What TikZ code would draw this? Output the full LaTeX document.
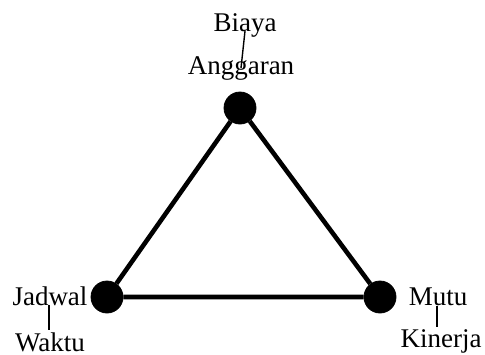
\documentclass[tikz,border=0pt]{standalone}
\usepackage{fontspec}
\setmainfont{Liberation Serif}
\usepackage{tikz}

\begin{document}
\begin{tikzpicture}[x=0.5pt, y=-0.5pt,
    vertex/.style={draw=black, fill=black, circle, inner sep=0pt, minimum size=16pt},
    lbl/.style={inner sep=1pt, font=\fontsize{13.5}{16}\selectfont},
    tick/.style={draw=black, line width=0.7pt}]
  \useasboundingbox (0,0) rectangle (485,354);
  % corners of the triangle
  \node[vertex] (biayapt) at (240,108) {};
  \node[vertex] (jadwalpt) at (107,297) {};
  \node[vertex] (mutupt) at (380,297) {};
  \draw[line width=2.3pt] (biayapt) -- (jadwalpt) -- (mutupt) -- (biayapt);
  % labels
  \node[lbl] (biaya) at (245,25) {Biaya};
  \node[lbl] (anggaran) at (241,68) {Anggaran};
  \node[lbl] (jadwal) at (50,296) {Jadwal};
  \node[lbl] (waktu) at (50,342) {Waktu};
  \node[lbl] (mutu) at (438,297) {Mutu};
  \node[lbl] (kinerja) at (441,341) {Kinerja};
  \draw[tick] (biaya.base) -- (anggaran.center);
  \draw[tick] ([xshift=-0.5pt]jadwal.base) -- ([xshift=-0.5pt]waktu.north);
  \draw[tick] ([xshift=-0.5pt]mutu.base) -- ([xshift=-2pt]kinerja.north);
\end{tikzpicture}
\end{document}
